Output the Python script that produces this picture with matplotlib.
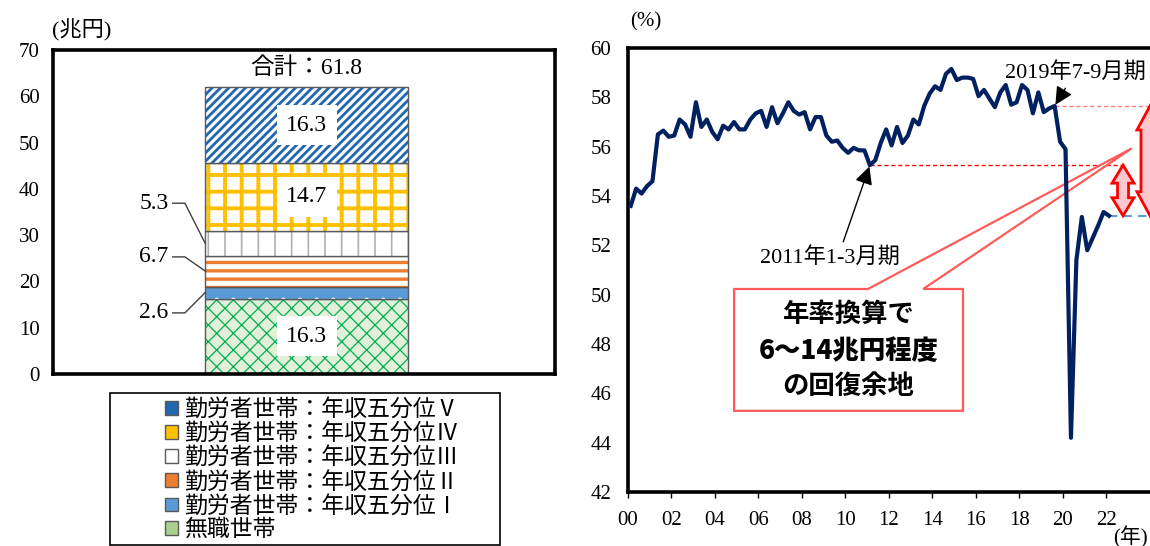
import numpy as np
import matplotlib
matplotlib.use("Agg")
import matplotlib.pyplot as plt
import matplotlib.transforms as mtransforms
from matplotlib.patches import Polygon, Rectangle

plt.rcParams['font.family'] = ['Liberation Serif', 'Noto Sans CJK JP']
plt.rcParams['axes.unicode_minus'] = False

# ---- 左図：世帯属性別の内訳（兆円） ----
groups = ['無職世帯',
          '勤労者世帯：年収五分位Ⅰ',
          '勤労者世帯：年収五分位Ⅱ',
          '勤労者世帯：年収五分位Ⅲ',
          '勤労者世帯：年収五分位Ⅳ',
          '勤労者世帯：年収五分位Ⅴ']
amounts = [16.3, 2.6, 6.7, 5.3, 14.7, 16.3]
total = 61.8
inside_labelled = [0, 4, 5]
side_labelled = [1, 2, 3]
side_label_y = [13.2, 25.3, 36.9]   # 引出し線付きラベルの高さ

# ---- 右図：平均消費性向（%、四半期、2000年1-3月期～） ----
start_year = 2000
rate = [
    53.6, 54.3, 54.1, 54.4,     # 2000
    54.6, 56.5, 56.65, 56.4,    # 2001
    56.45, 57.1, 56.9, 56.4,    # 2002
    57.8, 56.8, 57.1, 56.6,     # 2003
    56.3, 56.85, 56.7, 57.0,    # 2004
    56.7, 56.7, 57.1, 57.35,    # 2005
    57.45, 56.8, 57.6, 56.95,   # 2006
    57.35, 57.8, 57.45, 57.3,   # 2007
    57.4, 56.7, 57.2, 57.2,     # 2008
    56.45, 56.2, 56.25, 55.95,  # 2009
    55.75, 55.95, 55.85, 55.85, # 2010
    55.25, 55.45, 56.15, 56.7,  # 2011
    56.05, 56.8, 56.15, 56.45,  # 2012
    57.1, 56.9, 57.65, 58.15,   # 2013
    58.45, 58.3, 58.95, 59.15,  # 2014
    58.7, 58.8, 58.8, 58.75,    # 2015
    58.05, 58.3, 57.95, 57.6,   # 2016
    58.2, 58.5, 57.7, 57.8,     # 2017
    58.5, 58.3, 57.35, 58.2,    # 2018
    57.4, 57.55, 57.65, 56.2,   # 2019
    55.9, 44.2, 51.4, 53.15,    # 2020
    51.8, 52.3, 52.8, 53.35,    # 2021
    53.2,                       # 2022
]
low_q = (2011, 1)
high_q = (2019, 3)
year_ticks = list(range(2000, 2023, 2))

fig = plt.figure(figsize=(11.5, 5.46), dpi=100)

# ================= 左図 =================
ax1 = fig.add_axes([53 / 1150, 172 / 546, 502 / 1150, 324 / 546])

# 塗り・ハッチ・凡例色
styles = [
    dict(face='#e2f0d9', hatch='xx', hc='#00b050', hlw=0.9, key='#a9d08e'),
    dict(face='#5b9bd5', hatch='.', hc='white', hlw=1.0, key='#5b9bd5'),
    dict(face='white', hatch='--', hc='#ed7d31', hlw=2.4, key='#ed7d31'),
    dict(face='white', hatch='|', hc='#b0b0b0', hlw=1.2, key='white'),
    dict(face='white', hatch='+', hc='#ffc000', hlw=2.8, key='#ffc000'),
    dict(face='white', hatch='////', hc='#2366b0', hlw=2.0, key='#2366b0'),
]

bottoms = np.concatenate([[0], np.cumsum(amounts)[:-1]])
for name, val, bot, st in zip(groups, amounts, bottoms, styles):
    with plt.rc_context({'hatch.linewidth': st['hlw']}):
        fill = ax1.bar(0, val, bottom=bot, width=1, color=st['face'],
                       edgecolor=st['hc'], hatch=st['hatch'], linewidth=0)[0]
    if hasattr(fill, 'set_hatch_linewidth'):
        fill.set_hatch_linewidth(st['hlw'])
    ax1.bar(0, val, bottom=bot, width=1, fill=False,
            edgecolor='#595959', linewidth=1)

for i in inside_labelled:
    ax1.text(0, bottoms[i] + amounts[i] / 2, f"{amounts[i]:.1f}",
             ha='center', va='center', fontsize=17,
             bbox=dict(boxstyle='square,pad=0.4', facecolor='white',
                       edgecolor='none'))

for i, ly in zip(side_labelled, side_label_y):
    mid = bottoms[i] + amounts[i] / 2
    ax1.plot([-0.66, -0.6, -0.5], [ly, ly, mid], color='#404040', lw=1,
             clip_on=False)
    ax1.text(-0.68, ly, f"{amounts[i]:.1f}", ha='right', va='center',
             fontsize=17)

ax1.text(0, sum(amounts) + 1.8, f"合計：{total:.1f}", ha='center',
         va='bottom', fontsize=17)

ax1.set_xlim(-1.25, 1.224)
ax1.set_ylim(0, 70)
ax1.set_yticks(range(0, 71, 10))
ax1.set_xticks([])
ax1.tick_params(axis='y', length=0, pad=9.5, labelsize=15)
for sp in ax1.spines.values():
    sp.set_linewidth(2.6)
fig.text(52 / 1150, 1 - 30 / 546, '(兆円)', ha='left', va='center',
         fontsize=16)

# 凡例（枠は別に描く）
fig.add_artist(Rectangle((110 / 1150, 1 - 545 / 546), 390 / 1150, 152 / 546,
                         transform=fig.transFigure, fill=False,
                         edgecolor='black', lw=1.2))
order = list(range(len(groups)))[::-1]
keys = [Rectangle((0, 0), 1, 1, facecolor=styles[i]['key'],
                  edgecolor='#595959', lw=1) for i in order]
fig.legend(keys, [groups[i] for i in order],
           loc='center', bbox_to_anchor=(312 / 1150, 1 - 470 / 546),
           frameon=False, fontsize=16.5, handlelength=0.55, handleheight=0.55,
           handletextpad=0.3, labelspacing=0.1, borderpad=0)

# ================= 右図 =================
ax2 = fig.add_axes([628 / 1150, 54 / 546, 552 / 1150, 444 / 546])
x = start_year + np.arange(len(rate)) / 4 + 0.125
ax2.plot(x, rate, color='#002060', lw=3, zorder=5, solid_joinstyle='round')

ax2.set_xlim(2000, 2000 + 552 / 21.74)
ax2.set_ylim(42, 60)
ax2.set_yticks(range(42, 61, 2))
ax2.set_xticks(year_ticks)
ax2.set_xticklabels([f"{y % 100:02d}" for y in year_ticks])
ax2.tick_params(axis='y', length=0, pad=12, labelsize=15)
ax2.tick_params(axis='x', length=4, width=1, pad=10, labelsize=15,
                direction='out')
for sp in ax2.spines.values():
    sp.set_linewidth(2.6)
fig.text(630 / 1150, 1 - 22 / 546, '(%)', ha='left', va='center',
         fontsize=15)
fig.text(1130 / 1150, 1 - 537 / 546, '(年)', ha='center', va='center',
         fontsize=15)

i_low = (low_q[0] - start_year) * 4 + low_q[1] - 1
i_high = (high_q[0] - start_year) * 4 + high_q[1] - 1
i_last = len(rate) - 1
arrow_small_x = 2022.77
arrow_big_x = 2024.01

ax2.plot([x[i_low], 2022.95], [rate[i_low]] * 2, color='red', lw=1,
         dashes=(3, 2), zorder=3)
ax2.plot([x[i_high], ax2.get_xlim()[1]], [rate[i_high]] * 2,
         color='#ff7c80', lw=1, dashes=(3, 2), zorder=3)
ax2.plot([x[i_last], ax2.get_xlim()[1]], [rate[i_last]] * 2,
         color='#5b9bd5', lw=1.5, dashes=(4, 3), zorder=3)

arrow_kw = dict(arrowstyle='-|>,head_length=0.9,head_width=0.45',
                mutation_scale=12, color='black', lw=1, shrinkA=2, shrinkB=1)
ax2.annotate('2011年1-3月期', xy=(x[i_low], rate[i_low]),
             xytext=(2009.3, 51.5), ha='center', va='center', fontsize=16,
             arrowprops=dict(arrow_kw, relpos=(0.58, 1.0)), zorder=6)
ax2.annotate('2019年7-9月期', xy=(x[i_high], rate[i_high]),
             xytext=(2017.35, 59.0), ha='left', va='center', fontsize=16,
             arrowprops=dict(arrow_kw, relpos=(0.45, 0.0)),
             zorder=6, annotation_clip=False)


def double_arrow(xc, y_a, y_b, shaft, head, head_len):
    """縦向きの両矢印（ピクセル単位で形を決める）"""
    (px, pa), (_, pb) = ax2.transData.transform([(xc, y_a), (xc, y_b)])
    top, bot = max(pa, pb), min(pa, pb)
    s, h = shaft / 2, head / 2
    verts = [(px, top), (px + h, top - head_len), (px + s, top - head_len),
             (px + s, bot + head_len), (px + h, bot + head_len), (px, bot),
             (px - h, bot + head_len), (px - s, bot + head_len),
             (px - s, top - head_len), (px - h, top - head_len)]
    fig.add_artist(Polygon(verts, closed=True,
                           transform=mtransforms.IdentityTransform(),
                           facecolor='#ffc7ce', edgecolor='red', lw=2,
                           zorder=7))


double_arrow(arrow_small_x, rate[i_low], rate[i_last], 11, 22, 18)
double_arrow(arrow_big_x, rate[i_high], rate[i_last], 18, 26, 24)

# 吹き出し
bx0, bx1, by0, by1 = 2004.88, 2015.41, 45.29, 50.23
p1, p2 = 2011.04, 2013.58
apex = (2023.17, 55.93)
ax2.add_patch(Polygon([(bx0, by1), (p1, by1), apex, (p2, by1), (bx1, by1),
                       (bx1, by0), (bx0, by0)], closed=True,
                      facecolor='white', edgecolor='#ff5b5b', lw=1.6,
                      zorder=4, clip_on=False))
cx = (bx0 + bx1) / 2
for frac, line, weight in [(0.21, '年率換算で', 'bold'),
                           (0.51, '6～14兆円程度', 'heavy'),
                           (0.80, 'の回復余地', 'bold')]:
    ax2.text(cx, by1 - frac * (by1 - by0), line, ha='center', va='center',
             fontsize=19, fontweight=weight, family='Noto Sans CJK JP',
             zorder=6)

fig.savefig('out.png', dpi=100)
